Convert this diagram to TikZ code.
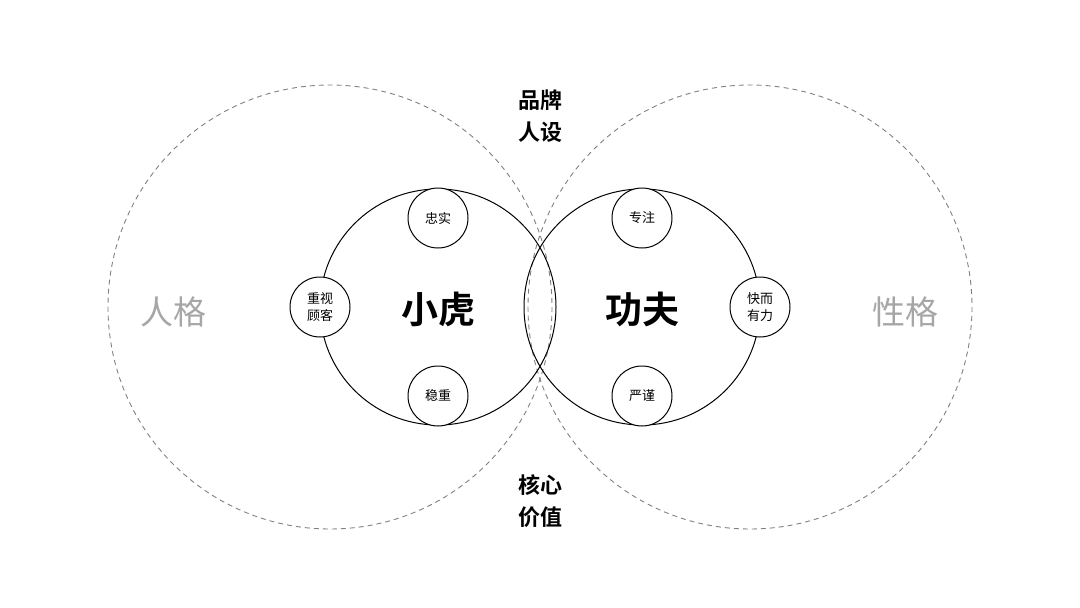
\documentclass[tikz,border=0pt]{standalone}
\usepackage{fontspec}
\setmainfont{Noto Sans CJK SC}
\newfontfamily\cjkb{Noto Sans CJK SC Bold}
\begin{document}
\begin{tikzpicture}[x=1pt,y=-1pt,
  big/.style={draw=gray,dash pattern=on 5pt off 4pt,line width=0.9pt},
  mid/.style={draw=black,line width=1pt},
  small/.style={circle,draw=black,fill=white,line width=1pt,minimum size=60pt,inner sep=0pt,align=center,font=\fontsize{13}{17}\selectfont},
  head/.style={font=\cjkb\fontsize{22}{32}\selectfont,align=center},
  side/.style={font=\fontsize{33}{36}\selectfont,text=gray!70},
  core/.style={font=\cjkb\fontsize{37}{40}\selectfont}]
\useasboundingbox (0,0) rectangle (1080,608);
\draw[big] (330,307) circle (222);
\draw[big] (750,307) circle (222);
\draw[mid] (438,307) circle (118);
\draw[mid] (642,307) circle (118);
\node[small] (a1) at (438,218) {忠实};
\node[small] (a2) at (438,396) {稳重};
\node[small] (a3) at (320,307) {重视\\顾客};
\node[small] (b1) at (642,218) {专注};
\node[small] (b2) at (642,396) {严谨};
\node[small] (b3) at (760,307) {快而\\有力};
\node[core] (c1) at (438,309) {小虎};
\node[core] (c2) at (642,309) {功夫};
\node[side] (s1) at (173,312) {人格};
\node[side] (s2) at (905,312) {性格};
\node[head] (h1) at (540,116) {品牌\\人设};
\node[head] (h2) at (540,501) {核心\\价值};
\end{tikzpicture}
\end{document}
